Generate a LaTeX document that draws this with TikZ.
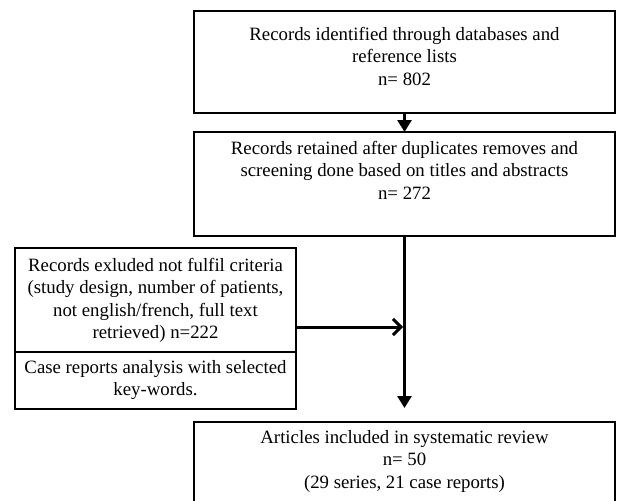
\documentclass[tikz,border=0pt]{standalone}
\usepackage{fontspec}
\setmainfont{Liberation Serif}
\usetikzlibrary{arrows.meta,positioning}

% box text: width, height, top gap, lines
\newcommand{\boxtext}[4]{\parbox[c][#2][t]{#1}{\centering\vspace*{#3}#4}}

\begin{document}
\begin{tikzpicture}[x=1pt, y=-1pt,
    every node/.style={font=\fontsize{18.8}{22.5}\selectfont},
    box/.style={draw, line width=2.6pt, inner sep=0pt, outer sep=0pt, anchor=north west},
    flow/.style={line width=2.8pt, -{Triangle[length=12pt,width=14pt]}},
    joinarrow/.style={line width=3pt, -{Straight Barb[length=8pt,width=16pt]}}]
    \clip (0,0) rectangle (617,500);
    \node[box] (ident) at (194,11)
      {\boxtext{421pt}{102pt}{16pt}{Records identified through databases and\\reference lists\\n= 802}};
    \node[box] (ret) at (194,132)
      {\boxtext{421pt}{104pt}{9pt}{Records retained after duplicates removes and\\screening done based on titles and abstracts\\n= 272}};
    \node[box] (exc) at (15,248)
      {\boxtext{281pt}{104pt}{10pt}{Records exluded not fulfil criteria\\(study design, number of patients,\\not english/french, full text\\retrieved) n=222}};
    \node[box, anchor=north, below=0pt of exc] (case)
      {\boxtext{281pt}{57pt}{8pt}{Case reports analysis with selected\\key-words.}};
    \node[box] (incl) at (194,422)
      {\boxtext{421pt}{95pt}{8pt}{Articles included in systematic review\\n= 50\\(29 series, 21 case reports)}};
    \coordinate (jn) at (403,327);
    \coordinate (st) at (exc.east |- jn);
    \draw[flow] (ident) -- (ret);
    \draw[flow, shorten >=14pt] (ret) -- (incl);
    \draw[joinarrow] (st) -- (jn);
\end{tikzpicture}
\end{document}
